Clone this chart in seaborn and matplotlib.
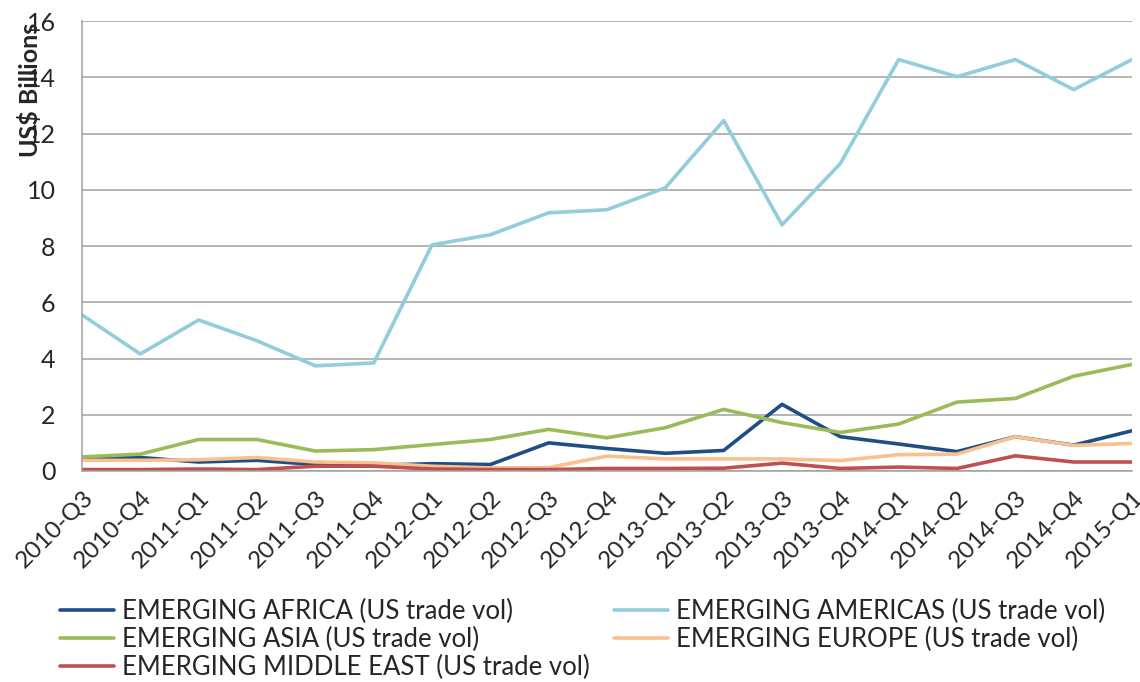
import matplotlib
matplotlib.use("Agg")
import matplotlib.pyplot as plt
import seaborn as sns
import pandas as pd

quarters = ["2010-Q3", "2010-Q4", "2011-Q1", "2011-Q2", "2011-Q3", "2011-Q4",
            "2012-Q1", "2012-Q2", "2012-Q3", "2012-Q4", "2013-Q1", "2013-Q2",
            "2013-Q3", "2013-Q4", "2014-Q1", "2014-Q2", "2014-Q3", "2014-Q4", "2015-Q1"]

africa = [0.48, 0.48, 0.32, 0.38, 0.23, 0.20, 0.26, 0.23, 1.00, 0.80, 0.63, 0.73,
          2.37, 1.22, 0.96, 0.69, 1.22, 0.92, 1.43]
americas = [5.55, 4.16, 5.37, 4.63, 3.74, 3.84, 8.04, 8.40, 9.18, 9.29, 10.07, 12.46,
            8.75, 10.93, 14.63, 14.02, 14.63, 13.56, 14.63]
asia = [0.50, 0.60, 1.12, 1.12, 0.71, 0.76, 0.94, 1.12, 1.48, 1.18, 1.54, 2.19,
        1.72, 1.37, 1.67, 2.45, 2.58, 3.37, 3.79]
europe = [0.38, 0.38, 0.40, 0.48, 0.32, 0.29, 0.17, 0.11, 0.12, 0.53, 0.43, 0.43,
          0.43, 0.37, 0.58, 0.60, 1.22, 0.91, 0.98]
middle_east = [0.05, 0.05, 0.07, 0.05, 0.17, 0.17, 0.07, 0.05, 0.05, 0.09, 0.09, 0.10,
               0.28, 0.09, 0.14, 0.09, 0.54, 0.32, 0.32]

series_names = ["EMERGING AFRICA (US trade vol)", "EMERGING AMERICAS (US trade vol)",
                "EMERGING ASIA (US trade vol)", "EMERGING EUROPE (US trade vol)",
                "EMERGING MIDDLE EAST (US trade vol)"]
series_values = [africa, americas, asia, europe, middle_east]
colors = ["#1F4E85", "#92CDDC", "#9BBB59", "#FAC090", "#C0504D"]
y_ticks = [0, 2, 4, 6, 8, 10, 12, 14, 16]

rows = []
for name, vals in zip(series_names, series_values):
    for i, (q, v) in enumerate(zip(quarters, vals)):
        rows.append({"idx": i, "quarter": q, "series": name, "value": v})
df = pd.DataFrame(rows)

sns.set_style("white")
plt.rcParams["font.family"] = ["Lato", "DejaVu Sans"]

fig = plt.figure(figsize=(11.4, 6.82), dpi=100)
ax = fig.add_axes([82 / 1140, 1 - 471 / 682, (1132 - 82) / 1140, (471 - 21) / 682])

sns.lineplot(data=df, x="idx", y="value", hue="series", hue_order=series_names,
             palette=colors, linewidth=2.6, ax=ax, sort=False, legend=True)

ax.set_xlim(0, len(quarters) - 1)
ax.set_ylim(0, 16)
ax.set_yticks(y_ticks)
ax.set_yticklabels([str(t) for t in y_ticks], fontsize=18)
ax.set_xticks(range(len(quarters)))
ax.set_xticklabels(quarters, rotation=45, ha="right", rotation_mode="anchor", fontsize=17.5)
ax.set_xlabel("")
ax.set_ylabel("")
ax.grid(axis="y", color="#A0A0A0", linewidth=1.1)
ax.set_axisbelow(True)
for s in ["top", "right"]:
    ax.spines[s].set_visible(False)
for s in ["left", "bottom"]:
    ax.spines[s].set_color("#A0A0A0")
    ax.spines[s].set_linewidth(1.1)
ax.tick_params(axis="y", direction="out", length=7, color="#A0A0A0", width=1.1, pad=12)
ax.tick_params(axis="x", direction="out", length=8, color="#A0A0A0", width=1.1, pad=3)

fig.text(30 / 1140, 1 - 90 / 682, "US$ Billions", rotation=90, fontsize=18,
         fontweight="bold", ha="center", va="center")

handles, labels = ax.get_legend_handles_labels()
order = [0, 2, 4, 1, 3]
ax.legend([handles[i] for i in order], [labels[i] for i in order], ncol=2,
          loc="upper left", bbox_to_anchor=(37 / 1140, 1 - 576 / 682),
          bbox_transform=fig.transFigure, frameon=False, fontsize=18.5,
          handlelength=2.1, handletextpad=0.3, columnspacing=0.95, labelspacing=0.1)

fig.savefig("out.png", dpi=100)
